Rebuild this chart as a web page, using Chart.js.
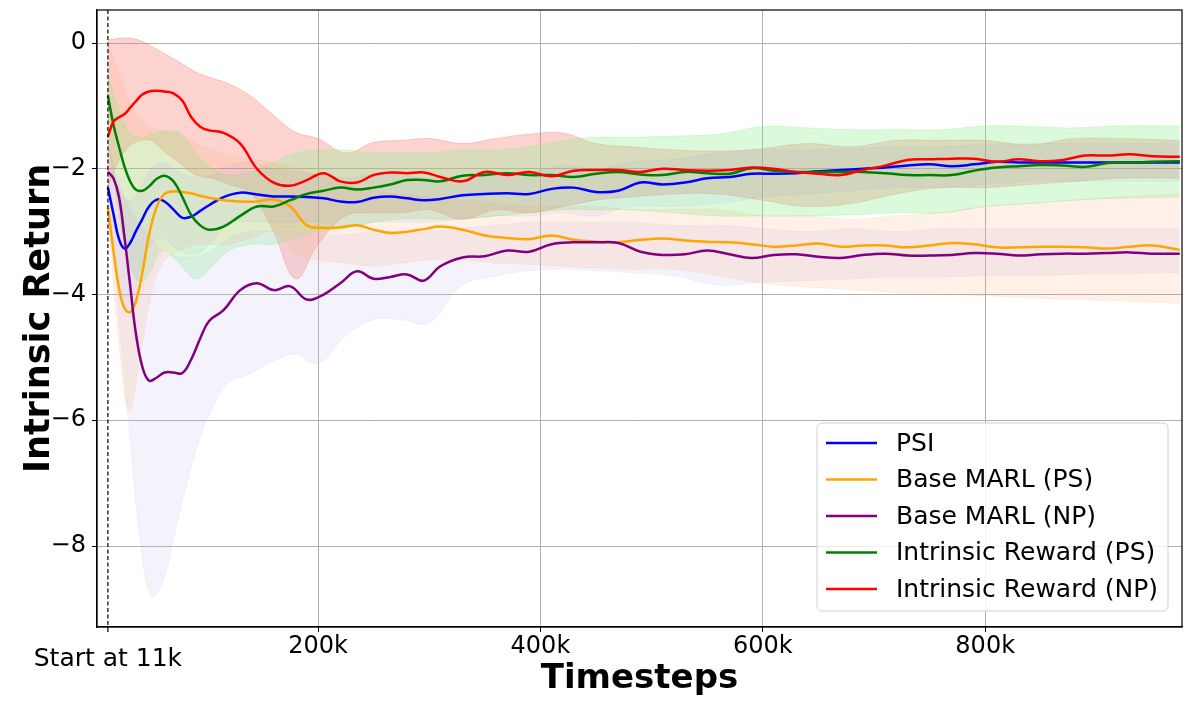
<!DOCTYPE html>
<html>
<head>
<meta charset="utf-8">
<script src="https://cdn.jsdelivr.net/npm/chart.js@4.4.1/dist/chart.umd.min.js"></script>
<style>
  html, body { margin: 0; padding: 0; background: #fff; }
  #wrap { width: 1191px; height: 709px; }
</style>
</head>
<body>
<div id="wrap"><canvas id="returnChart" width="1191" height="709"></canvas></div>
<script>
// timesteps in thousands
const steps = [11, 16, 21, 26, 31, 36, 42, 48, 55, 62, 70, 78, 86, 94, 102,
  115, 130, 145, 160, 175, 190, 205, 220, 235, 250, 265, 280, 295, 310, 330, 350, 370, 390, 410, 430,
  450, 470, 490, 510, 530, 550, 570, 590, 610, 630, 650, 670, 690, 710, 730, 750, 770, 790, 810, 830,
  850, 870, 890, 910, 930, 950, 975];

const psi = [-2.3, -2.72, -3.12, -3.27, -3.18, -3.0, -2.8, -2.6, -2.49, -2.52, -2.65, -2.78, -2.76, -2.67, -2.58,
  -2.45, -2.38, -2.41, -2.44, -2.44, -2.45, -2.47, -2.52, -2.53, -2.46, -2.44, -2.47, -2.5, -2.48, -2.42, -2.4, -2.39, -2.4, -2.32, -2.3,
  -2.37, -2.35, -2.22, -2.25, -2.22, -2.15, -2.13, -2.08, -2.08, -2.07, -2.04, -2.02, -2.0, -1.98, -1.95, -1.93, -1.96, -1.93, -1.89, -1.9,
  -1.9, -1.9, -1.9, -1.9, -1.9, -1.9, -1.9];

const baseShared = [-2.62, -3.3, -3.9, -4.22, -4.28, -4.12, -3.65, -3.05, -2.6, -2.4, -2.36, -2.37, -2.39, -2.43, -2.46,
  -2.5, -2.52, -2.52, -2.49, -2.6, -2.9, -2.94, -2.93, -2.9, -2.97, -3.02, -3.0, -2.96, -2.92, -2.97, -3.06, -3.1, -3.12, -3.06, -3.13,
  -3.16, -3.17, -3.13, -3.11, -3.14, -3.16, -3.17, -3.2, -3.24, -3.22, -3.19, -3.24, -3.22, -3.22, -3.25, -3.22, -3.18, -3.2, -3.25, -3.25,
  -3.24, -3.24, -3.25, -3.27, -3.24, -3.22, -3.29];

const baseSeparate = [-2.05, -2.15, -2.45, -3.1, -3.85, -4.6, -5.15, -5.37, -5.32, -5.24, -5.24, -5.25, -5.03, -4.7, -4.42,
  -4.25, -3.93, -3.82, -3.93, -3.87, -4.08, -4.0, -3.82, -3.63, -3.75, -3.72, -3.68, -3.78, -3.55, -3.41, -3.39, -3.3, -3.32, -3.2, -3.17,
  -3.17, -3.18, -3.32, -3.37, -3.36, -3.3, -3.36, -3.42, -3.37, -3.36, -3.4, -3.42, -3.37, -3.35, -3.38, -3.38, -3.37, -3.34, -3.35, -3.38,
  -3.36, -3.35, -3.35, -3.34, -3.33, -3.35, -3.35];

const intrShared = [-0.84, -1.3, -1.65, -1.97, -2.2, -2.33, -2.35, -2.28, -2.16, -2.11, -2.2, -2.45, -2.74, -2.9, -2.97,
  -2.92, -2.75, -2.6, -2.6, -2.5, -2.4, -2.35, -2.3, -2.33, -2.3, -2.25, -2.18, -2.18, -2.2, -2.11, -2.1, -2.07, -2.1, -2.1, -2.13,
  -2.08, -2.05, -2.09, -2.1, -2.05, -2.07, -2.08, -1.99, -2.03, -2.05, -2.05, -2.05, -2.05, -2.07, -2.1, -2.1, -2.1, -2.03, -1.98, -1.96,
  -1.94, -1.95, -1.97, -1.91, -1.9, -1.89, -1.88];

const intrSeparate = [-1.49, -1.25, -1.18, -1.13, -1.03, -0.93, -0.82, -0.77, -0.76, -0.77, -0.8, -0.92, -1.18, -1.33, -1.39,
  -1.43, -1.6, -2.0, -2.22, -2.27, -2.18, -2.07, -2.2, -2.22, -2.1, -2.06, -2.07, -2.06, -2.13, -2.2, -2.05, -2.1, -2.05, -2.12, -2.03,
  -2.02, -2.02, -2.05, -2.0, -2.02, -2.03, -2.02, -1.98, -2.0, -2.05, -2.08, -2.1, -2.02, -1.95, -1.86, -1.85, -1.84, -1.84, -1.89, -1.85,
  -1.88, -1.86, -1.79, -1.79, -1.77, -1.8, -1.81];

// shaded spread, sampled on a coarser grid
const bandSteps = [11, 20, 30, 40, 50, 60, 75, 90, 105, 120, 140, 160, 180, 200, 225, 250, 275, 300, 330, 360,
  390, 420, 450, 480, 520, 560, 600, 640, 680, 720, 760, 800, 840, 880, 920, 975];

const psiHi = [-1.6, -2.2, -2.5, -2.3, -2.0, -1.9, -2.05, -2.15, -2.1, -1.95, -1.9, -2.0, -2.05, -2.1, -2.15, -2.1, -2.1, -2.15, -2.1, -2.05,
  -2.05, -1.95, -2.0, -1.9, -1.85, -1.75, -1.7, -1.7, -1.68, -1.65, -1.65, -1.62, -1.6, -1.6, -1.6, -1.6];
const psiLo = [-2.9, -3.8, -4.3, -3.6, -3.2, -3.1, -3.3, -3.35, -3.15, -2.85, -2.85, -2.85, -2.85, -2.85, -2.9, -2.85, -2.85, -2.85, -2.8, -2.75,
  -2.75, -2.7, -2.75, -2.6, -2.6, -2.55, -2.45, -2.4, -2.35, -2.3, -2.3, -2.25, -2.2, -2.2, -2.2, -2.2];

const baseSharedHi = [0.0, -0.45, -0.9, -1.2, -1.35, -1.4, -1.45, -1.6, -1.7, -1.8, -1.85, -1.9, -2.0, -2.1, -2.25, -2.35, -2.4, -2.45, -2.5, -2.55,
  -2.6, -2.6, -2.6, -2.65, -2.65, -2.65, -2.75, -2.75, -2.8, -2.75, -2.7, -2.6, -2.55, -2.5, -2.45, -2.4];
const baseSharedLo = [-2.7, -4.6, -5.85, -5.0, -4.0, -3.5, -3.3, -3.2, -3.2, -3.2, -3.1, -3.0, -3.35, -3.45, -3.5, -3.55, -3.5, -3.45, -3.45, -3.5,
  -3.52, -3.55, -3.58, -3.6, -3.6, -3.7, -3.82, -3.88, -3.92, -3.97, -4.0, -4.02, -4.05, -4.08, -4.1, -4.14];

const baseSeparateHi = [-2.0, -2.3, -2.6, -2.9, -3.1, -3.3, -3.4, -3.4, -3.3, -3.1, -3.0, -3.0, -3.0, -3.05, -3.05, -3.0, -3.0, -3.0, -2.95, -2.9,
  -2.85, -2.85, -2.85, -2.85, -2.9, -2.9, -2.95, -3.0, -2.95, -3.0, -2.95, -2.95, -2.95, -2.95, -2.95, -2.95];
const baseSeparateLo = [-2.2, -4.2, -6.1, -7.9, -8.8, -8.6, -7.5, -6.5, -5.8, -5.4, -5.25, -5.05, -4.95, -5.1, -4.65, -4.4, -4.4, -4.45, -3.85, -3.7,
  -3.62, -3.6, -3.62, -3.65, -3.7, -3.85, -3.8, -3.78, -3.75, -3.72, -3.72, -3.7, -3.7, -3.68, -3.67, -3.65];

const intrSharedHi = [-0.5, -1.0, -1.4, -1.5, -1.45, -1.4, -1.42, -1.75, -2.0, -2.1, -2.05, -1.9, -1.75, -1.7, -1.7, -1.75, -1.75, -1.75, -1.7, -1.7,
  -1.65, -1.55, -1.5, -1.5, -1.48, -1.45, -1.33, -1.35, -1.38, -1.38, -1.38, -1.32, -1.33, -1.35, -1.32, -1.32];
const intrSharedLo = [-1.5, -2.6, -3.5, -3.8, -3.6, -3.3, -3.5, -3.75, -3.55, -3.3, -3.2, -3.2, -3.1, -3.0, -2.95, -2.85, -2.8, -2.8, -2.8, -2.75,
  -2.7, -2.65, -2.65, -2.65, -2.7, -2.75, -2.75, -2.75, -2.73, -2.7, -2.7, -2.6, -2.55, -2.5, -2.47, -2.45];

const intrSeparateHi = [0.05, 0.07, 0.08, 0.04, -0.05, -0.15, -0.3, -0.46, -0.56, -0.65, -0.85, -1.15, -1.42, -1.52, -1.75, -1.58, -1.55, -1.52, -1.6, -1.52,
  -1.45, -1.43, -1.6, -1.65, -1.7, -1.72, -1.68, -1.6, -1.65, -1.55, -1.55, -1.55, -1.62, -1.52, -1.52, -1.55];
const intrSeparateLo = [-2.3, -1.9, -1.65, -1.55, -1.55, -1.7, -1.9, -2.1, -2.15, -2.25, -2.4, -3.0, -3.75, -3.2, -2.75, -2.7, -2.7, -2.65, -2.8, -2.65,
  -2.7, -2.6, -2.5, -2.45, -2.4, -2.4, -2.5, -2.6, -2.55, -2.4, -2.3, -2.3, -2.25, -2.2, -2.15, -2.15];

const xTicks = [200, 400, 600, 800];
const yTicks = [-8, -6, -4, -2, 0];
const startStep = 11;

const pts = (xs, ys) => xs.map((x, i) => ({ x: x, y: ys[i] }));

// legend order
const series = [
  { label: 'PSI', data: psi, hi: psiHi, lo: psiLo, color: '#0000ff', band: 'rgba(110,130,225,0.08)' },
  { label: 'Base MARL (PS)', data: baseShared, hi: baseSharedHi, lo: baseSharedLo, color: '#ffa500', band: 'rgba(255,160,100,0.15)' },
  { label: 'Base MARL (NP)', data: baseSeparate, hi: baseSeparateHi, lo: baseSeparateLo, color: '#800080', band: 'rgba(195,190,240,0.18)' },
  { label: 'Intrinsic Reward (PS)', data: intrShared, hi: intrSharedHi, lo: intrSharedLo, color: '#008000', band: 'rgba(144,238,144,0.32)' },
  { label: 'Intrinsic Reward (NP)', data: intrSeparate, hi: intrSeparateHi, lo: intrSeparateLo, color: '#ff0000', band: 'rgba(250,110,95,0.30)' }
];

function buildDatasets() {
    const lines = [];
    const bands = [];
    // first dataset is drawn last, so red goes first to sit on top
    series.slice().reverse().forEach(s => {
        lines.push({
            label: s.label,
            data: pts(steps, s.data),
            borderColor: s.color,
            borderWidth: 2.5,
            pointRadius: 0,
            tension: 0.4,
            fill: false
        });
    });
    series.forEach(s => {
        bands.push({
            label: s.label + ' lo',
            data: pts(bandSteps, s.lo),
            borderColor: s.band,
            borderWidth: 1,
            pointRadius: 0,
            tension: 0.4,
            fill: false
        });
        bands.push({
            label: s.label + ' hi',
            data: pts(bandSteps, s.hi),
            borderColor: s.band,
            backgroundColor: s.band,
            borderWidth: 1,
            pointRadius: 0,
            tension: 0.4,
            fill: '-1'
        });
    });
    return lines.concat(bands);
}

// keep the plot box where the reference has it
function pinScale(s, size) {
    if (s.isHorizontal()) s.height = size; else s.width = size;
    s.paddingTop = 0;
    s.paddingBottom = 0;
    s.paddingLeft = 0;
    s.paddingRight = 0;
}

const overlayPlugin = {
    id: 'overlay',
    afterDraw(chart) {
        const { ctx, chartArea: a, scales: { x } } = chart;
        const sx = x.getPixelForValue(startStep);
        ctx.save();

        // start marker
        ctx.strokeStyle = '#000';
        ctx.lineWidth = 1.2;
        ctx.setLineDash([4, 2.5]);
        ctx.beginPath();
        ctx.moveTo(sx, a.top);
        ctx.lineTo(sx, a.bottom);
        ctx.stroke();
        ctx.setLineDash([]);

        // frame + extra tick
        ctx.strokeRect(a.left, a.top, a.right - a.left, a.bottom - a.top);
        ctx.beginPath();
        ctx.moveTo(sx, a.bottom);
        ctx.lineTo(sx, a.bottom + 5);
        ctx.stroke();

        ctx.fillStyle = '#000';
        ctx.font = '25px "DejaVu Sans"';
        ctx.textAlign = 'center';
        ctx.textBaseline = 'middle';
        ctx.fillText('Start at ' + startStep + 'k', sx, a.bottom + 32);

        // legend box in the lower right corner
        const w = 351, h = 188;
        const bx = a.right - 14 - w;
        const by = a.bottom - 16 - h;
        ctx.beginPath();
        ctx.roundRect(bx, by, w, h, 5);
        ctx.fillStyle = 'rgba(255,255,255,0.8)';
        ctx.fill();
        ctx.strokeStyle = '#d0d0d0';
        ctx.lineWidth = 1;
        ctx.stroke();

        ctx.font = '25px "DejaVu Sans"';
        ctx.textAlign = 'left';
        series.forEach((s, i) => {
            const ly = by + 20 + i * 36.5;
            ctx.strokeStyle = s.color;
            ctx.lineWidth = 2.5;
            ctx.beginPath();
            ctx.moveTo(bx + 9, ly);
            ctx.lineTo(bx + 60, ly);
            ctx.stroke();
            ctx.fillStyle = '#000';
            ctx.fillText(s.label, bx + 79, ly + 1);
        });
        ctx.restore();
    }
};

Chart.defaults.font.family = '"DejaVu Sans", sans-serif';
Chart.defaults.color = '#000';

new Chart(document.getElementById('returnChart'), {
    type: 'line',
    data: { datasets: buildDatasets() },
    options: {
        responsive: false,
        animation: false,
        layout: { padding: { left: 0, top: 10, right: 9, bottom: 0 } },
        plugins: {
            legend: { display: false },
            tooltip: { enabled: false }
        },
        scales: {
            x: {
                type: 'linear',
                min: 1.2,
                max: 977,
                afterBuildTicks: s => { s.ticks = xTicks.map(v => ({ value: v })); },
                afterFit: s => pinScale(s, 82),
                ticks: {
                    callback: v => v + 'k',
                    font: { size: 24 },
                    padding: 0,
                    maxRotation: 0
                },
                grid: { color: '#b0b0b0', lineWidth: 1, tickColor: '#000', tickLength: 5 },
                border: { display: true, color: '#000', width: 1.2 },
                title: {
                    display: true,
                    text: 'Timesteps',
                    font: { size: 34, weight: 'bold', lineHeight: 1.2 },
                    padding: { top: 0, bottom: 9 }
                }
            },
            y: {
                min: -9.288,
                max: 0.525,
                afterBuildTicks: s => { s.ticks = yTicks.map(v => ({ value: v })); },
                afterFit: s => pinScale(s, 97),
                ticks: {
                    callback: v => (v < 0 ? '\u2212' + Math.abs(v) : String(v)),
                    font: { size: 24 },
                    padding: 6
                },
                grid: { color: '#b0b0b0', lineWidth: 1, tickColor: '#000', tickLength: 5 },
                border: { display: true, color: '#000', width: 1.2 },
                title: {
                    display: true,
                    text: 'Intrinsic Return',
                    font: { size: 35, weight: 'bold', lineHeight: 1.2 },
                    padding: { top: 19, bottom: 0 }
                }
            }
        }
    },
    plugins: [overlayPlugin]
});
</script>
</body>
</html>
